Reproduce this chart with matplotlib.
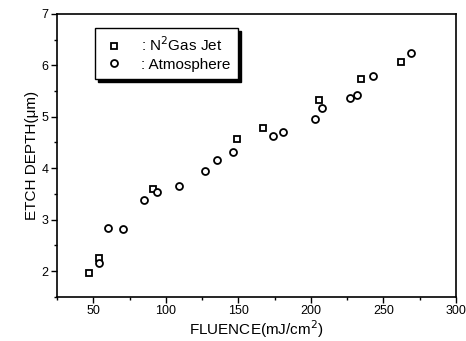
import numpy as np
import matplotlib
matplotlib.use("Agg")
from matplotlib import pyplot as plt
from matplotlib.ticker import MultipleLocator

plt.rcParams['font.family'] = ['Liberation Sans Narrow', 'Liberation Sans', 'DejaVu Sans']
plt.rcParams['mathtext.fontset'] = 'custom'
plt.rcParams['mathtext.rm'] = 'Liberation Sans Narrow'
plt.rcParams['mathtext.it'] = 'Liberation Sans Narrow'

# N2 gas jet (squares)
jet_x = [47.2, 54.1, 91.0, 149.0, 167.2, 205.4, 234.3, 262.3]
jet_y = [1.97, 2.25, 3.59, 4.56, 4.79, 5.33, 5.74, 6.06]

# atmosphere (circles)
atm_x = [54.1, 59.9, 70.7, 85.0, 94.2, 109.3, 127.2, 135.1, 146.1, 174.1,
         180.5, 203.0, 207.9, 226.9, 231.6, 242.6, 269.2]
atm_y = [2.16, 2.84, 2.81, 3.39, 3.53, 3.66, 3.94, 4.16, 4.32, 4.63,
         4.71, 4.96, 5.18, 5.37, 5.42, 5.79, 6.24]

fig = plt.figure(figsize=(4.66, 3.41), dpi=100)
ax = fig.add_axes([0.1223, 0.1299, 0.8562, 0.8291])

ax.plot(jet_x, jet_y, 's', ms=5, mfc='white', mec='black', mew=1.3,
        linestyle='none', label=': N$^2$Gas Jet')
ax.plot(atm_x, atm_y, 'o', ms=5, mfc='white', mec='black', mew=1.3,
        linestyle='none', label=': Atmosphere')

ax.set_xlim(25, 300)
ax.set_ylim(1.5, 7)
ax.xaxis.set_major_locator(MultipleLocator(50))
ax.xaxis.set_minor_locator(MultipleLocator(25))
ax.yaxis.set_major_locator(MultipleLocator(1))
ax.yaxis.set_minor_locator(MultipleLocator(0.5))
ax.tick_params(which='major', direction='out', length=4, width=1, labelsize=9, pad=2)
ax.tick_params(which='minor', direction='out', length=2, width=1)
for s in ax.spines.values():
    s.set_linewidth(1.2)

ax.set_xlabel('FLUENCE(mJ/cm$^2$)', fontsize=11, labelpad=1)
ax.set_ylabel('ETCH DEPTH(\u03bcm)', fontsize=11, labelpad=2)

leg = ax.legend(loc='upper left', bbox_to_anchor=(0.095, 0.95), borderaxespad=0,
                fontsize=11, frameon=True, fancybox=False, edgecolor='black',
                shadow={'color': 'black', 'alpha': 1}, handletextpad=1.0,
                borderpad=0.5, labelspacing=0.2, handlelength=1.5)
leg.get_frame().set_linewidth(1)

fig.savefig('out.png', dpi=100)
